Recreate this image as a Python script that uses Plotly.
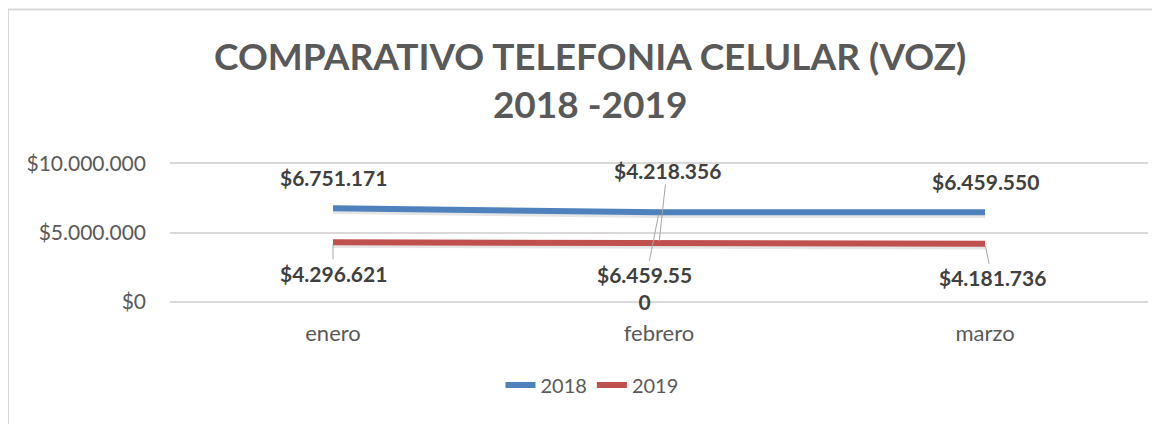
import plotly.graph_objects as go

meses = ["enero", "febrero", "marzo"]
v2018 = [6751171, 6459550, 6459550]
v2019 = [4296621, 4218356, 4181736]
etiquetas_2018 = ["$6.751.171", "$6.459.55<br>0", "$6.459.550"]
etiquetas_2019 = ["$4.296.621", "$4.218.356", "$4.181.736"]
ticks_y = [0, 5000000, 10000000]
ticks_txt = ["$0", "$5.000.000", "$10.000.000"]

FONT = "Lato"
OFF = 8  # page body margin
W, H = 1160 - OFF, 424 - OFF
PAD = 100000
Y0, Y1 = -PAD, 10000000 + PAD
pxu = 139 / 10000000
L = 170 - OFF
R = 20 - OFF
T = int(round(163 - OFF - PAD * pxu))
B = int(round(H - (302 - OFF + PAD * pxu)))
PW, PH = W - L - R, H - T - B


def px_x(px):
    return (px - OFF - L) / PW


def px_y(py):
    return 1 - (py - OFF - T) / PH


fig = go.Figure()
for vals in (v2018, v2019):
    fig.add_trace(go.Scatter(x=meses, y=[v - 160000 for v in vals], mode="lines",
                             line=dict(color="rgba(0,0,0,0.10)", width=7),
                             hoverinfo="skip", showlegend=False))
fig.add_trace(go.Scatter(x=meses, y=v2018, mode="lines", name="2018",
                         line=dict(color="#4F81BD", width=6)))
fig.add_trace(go.Scatter(x=meses, y=v2019, mode="lines", name="2019",
                         line=dict(color="#C0504D", width=6)))

lab_font = dict(family=FONT, size=21, color="#404040")
ann = []
offs18 = [(0, -31, False), (-15, 76, True), (0, -31, False)]
for m, v, t, (ax, ay, arr) in zip(meses, v2018, etiquetas_2018, offs18):
    if arr:
        ann.append(dict(x=m, y=v, text="<b>" + t + "</b>", showarrow=True, ax=ax, ay=ay,
                        arrowhead=0, arrowwidth=1, arrowcolor="#A6A6A6", standoff=2,
                        font=lab_font))
    else:
        ann.append(dict(x=m, y=v, text="<b>" + t + "</b>", showarrow=False, yshift=-ay,
                        font=lab_font))
offs19 = [(0, 31), (8, -73), (7, 34)]
for m, v, t, (ax, ay) in zip(meses, v2019, etiquetas_2019, offs19):
    ann.append(dict(x=m, y=v, text="<b>" + t + "</b>", showarrow=True, ax=ax, ay=ay,
                    arrowhead=0, arrowwidth=1, arrowcolor="#A6A6A6", standoff=2,
                    font=lab_font))

ann.append(dict(xref="paper", yref="paper", x=px_x(590), y=px_y(79.5),
                text="<b>COMPARATIVO TELEFONIA CELULAR (VOZ)<br>2018 -2019</b>",
                showarrow=False, font=dict(family=FONT, size=37, color="#595959"),
                xanchor="center", yanchor="middle"))

fig.update_layout(
    width=W, height=H,
    margin=dict(l=L, r=R, t=T, b=B, pad=0),
    paper_bgcolor="white", plot_bgcolor="white",
    showlegend=True,
    legend=dict(orientation="h", x=px_x(592), y=px_y(385),
                xanchor="center", yanchor="middle",
                font=dict(family=FONT, size=20, color="#595959")),
    xaxis=dict(range=[-0.5, 2.5], showgrid=False, showline=False, ticks="",
               ticklabelstandoff=15,
               tickfont=dict(family=FONT, size=22, color="#595959")),
    yaxis=dict(range=[Y0, Y1], tickvals=ticks_y, ticktext=ticks_txt,
               showgrid=True, gridcolor="#D9D9D9", gridwidth=2, zeroline=False,
               showline=False, ticks="", ticklabelstandoff=23,
               tickfont=dict(family=FONT, size=21, color="#595959")),
    annotations=ann,
    shapes=[
        dict(type="line", xref="paper", yref="paper", x0=px_x(8), x1=1.2,
             y0=px_y(9.5), y1=px_y(9.5), line=dict(color="#D9D9D9", width=2)),
        dict(type="line", xref="paper", yref="paper", x0=px_x(8), x1=px_x(8),
             y0=px_y(9.5), y1=px_y(440), line=dict(color="#D9D9D9", width=2)),
    ],
)
fig.write_html("out.html")
